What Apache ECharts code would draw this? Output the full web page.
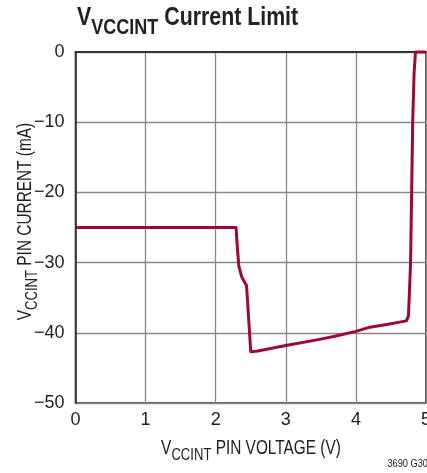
<!DOCTYPE html>
<html><head><meta charset="utf-8">
<script src="https://cdn.jsdelivr.net/npm/echarts@6/dist/echarts.min.js"></script>
<style>html,body{margin:0;padding:0;background:#fff}#c{width:427px;height:473px}</style>
</head><body><div id="c"></div>
<script>
const voltage = [0, 2.29, 2.31, 2.33, 2.37, 2.44, 2.50, 2.60, 3.00, 3.50, 3.70, 4.00, 4.20, 4.50, 4.72, 4.75, 4.78, 4.81, 4.83, 4.85, 5.00];
const current = [-25, -25, -28, -30.5, -32, -33.3, -42.7, -42.6, -41.8, -40.9, -40.5, -39.8, -39.2, -38.7, -38.3, -37.6, -30, -10, -3, 0, 0];
const xTicks = [0, 1, 2, 3, 4, 5];
const yTicks = [0, -10, -20, -30, -40, -50];

const FONT = "'Liberation Sans', Arial, sans-serif";
const chart = echarts.init(document.getElementById('c'));
const fmtNum = v => (v < 0 ? '\u2212' + Math.abs(v) : String(v));

chart.setOption({
  animation: false,
  backgroundColor: '#fff',
  grid: { left: 75.5, right: 1, top: 52, bottom: 70, show: true, borderColor: '#222', borderWidth: 1.5, outerBoundsMode: 'none', containLabel: false },
  xAxis: {
    type: 'value', min: xTicks[0], max: xTicks[xTicks.length - 1], interval: 1,
    axisLine: { show: true, lineStyle: { color: '#222', width: 1.5 } },
    axisTick: { show: false },
    splitLine: { show: true, lineStyle: { color: '#888', width: 1.3 } },
    axisLabel: { color: '#222', fontFamily: FONT, fontSize: 18, margin: 8, formatter: v => fmtNum(v) }
  },
  yAxis: {
    type: 'value', min: yTicks[yTicks.length - 1], max: yTicks[0], interval: 10,
    axisLine: { show: true, onZero: false, lineStyle: { color: '#222', width: 1.5 } },
    axisTick: { show: false },
    splitLine: { show: true, lineStyle: { color: '#888', width: 1.3 } },
    axisLabel: { color: '#222', fontFamily: FONT, fontSize: 18, margin: 11, formatter: v => fmtNum(v) }
  },
  series: [{
    type: 'line',
    data: voltage.map((v, i) => [v, current[i]]),
    showSymbol: false, symbol: 'none',
    lineStyle: { color: '#9b0a30', width: 3, join: 'round' },
    clip: false
  }],
  graphic: [
    {
      type: 'text', x: 77, y: 5, scaleX: 0.82,
      style: {
        text: '{v|V}{s|VCCINT}{v| Current Limit}',
        align: 'left', verticalAlign: 'top',
        rich: {
          v: { fontFamily: FONT, fontWeight: 'bold', fontSize: 26, lineHeight: 26, verticalAlign: 'top', fill: '#222' },
          s: { fontFamily: FONT, fontWeight: 'bold', fontSize: 22, lineHeight: 34, verticalAlign: 'bottom', fill: '#222' }
        }
      }
    },
    {
      type: 'text', x: 251, y: 451, scaleX: 0.77,
      style: {
        text: '{v|V}{s|CCINT}{v| PIN VOLTAGE (V)}',
        align: 'center', verticalAlign: 'middle',
        rich: {
          v: { fontFamily: FONT, fontSize: 20, lineHeight: 20, verticalAlign: 'top', fill: '#222' },
          s: { fontFamily: FONT, fontSize: 17, lineHeight: 26, verticalAlign: 'bottom', fill: '#222' }
        }
      }
    },
    {
      type: 'text', x: 28, y: 221.5, rotation: Math.PI / 2, scaleX: 0.77,
      style: {
        text: '{v|V}{s|CCINT}{v| PIN CURRENT (mA)}',
        align: 'center', verticalAlign: 'middle',
        rich: {
          v: { fontFamily: FONT, fontSize: 20, lineHeight: 20, verticalAlign: 'top', fill: '#222' },
          s: { fontFamily: FONT, fontSize: 17, lineHeight: 26, verticalAlign: 'bottom', fill: '#222' }
        }
      }
    },
    {
      type: 'text', x: 428, y: 459, scaleX: 0.88,
      style: { text: '3690 G30', fontFamily: FONT, fontSize: 10.5, fill: '#222', align: 'right', verticalAlign: 'top' }
    }
  ]
});
</script></body></html>
